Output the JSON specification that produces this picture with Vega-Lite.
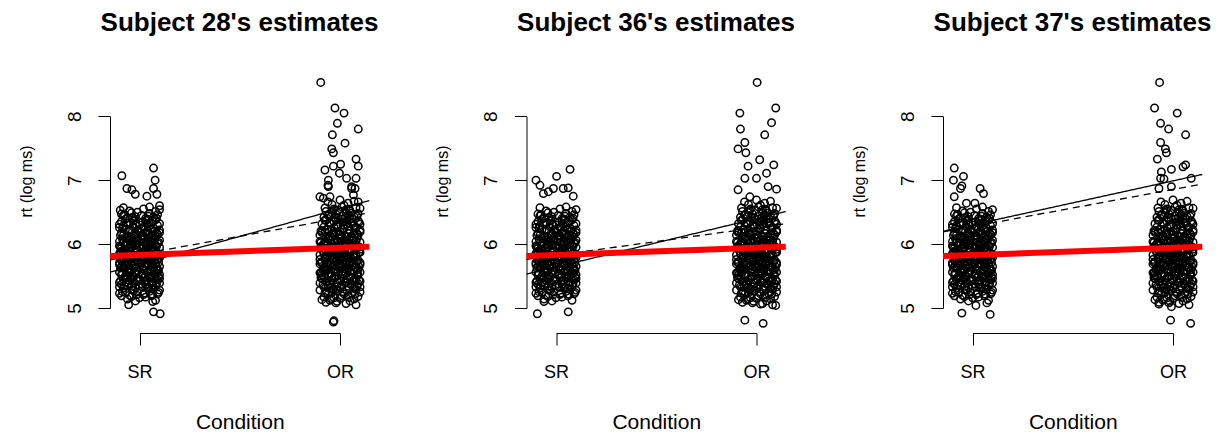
{
"$schema":"https://vega.github.io/schema/vega-lite/v6.json",
"background":"white",
"padding":{"left":18,"top":10,"right":0,"bottom":0},
"datasets":{
"core":[
{"x":-0.06,"y":5.14},{"x":0.03,"y":5.17},{"x":0.08,"y":5.12},{"x":-0.09,"y":5.19},{"x":0,"y":5.16},{"x":-0.02,"y":5.11},{"x":0.06,"y":5.19},{"x":-0.04,"y":5.18},
{"x":0.09,"y":5.22},{"x":-0.07,"y":5.24},{"x":0.02,"y":5.21},{"x":-0.03,"y":5.27},{"x":0.05,"y":5.26},{"x":-0.1,"y":5.23},{"x":0.07,"y":5.29},{"x":-0.01,"y":5.25},{"x":0.1,"y":5.28},{"x":-0.05,"y":5.2},
{"x":-0.08,"y":5.31},{"x":0.04,"y":5.33},{"x":0.01,"y":5.38},{"x":-0.06,"y":5.36},{"x":0.08,"y":5.35},{"x":-0.02,"y":5.32},{"x":0.1,"y":5.39},{"x":-0.09,"y":5.37},{"x":0.06,"y":5.3},{"x":-0.04,"y":5.34},{"x":0.03,"y":5.37},{"x":-0.1,"y":5.33},{"x":0,"y":5.35},
{"x":0.07,"y":5.41},{"x":-0.05,"y":5.43},{"x":0.02,"y":5.47},{"x":-0.08,"y":5.45},{"x":0.09,"y":5.44},{"x":-0.01,"y":5.42},{"x":0.05,"y":5.48},{"x":-0.1,"y":5.4},{"x":0.04,"y":5.43},{"x":-0.03,"y":5.49},{"x":0.1,"y":5.46},{"x":-0.07,"y":5.48},{"x":0,"y":5.45},{"x":0.06,"y":5.4},{"x":-0.04,"y":5.46},
{"x":-0.09,"y":5.52},{"x":0.03,"y":5.51},{"x":0.08,"y":5.55},{"x":-0.02,"y":5.54},{"x":0.06,"y":5.58},{"x":-0.06,"y":5.57},{"x":0.01,"y":5.53},{"x":-0.1,"y":5.56},{"x":0.1,"y":5.52},{"x":-0.04,"y":5.59},{"x":0.04,"y":5.56},{"x":-0.07,"y":5.5},{"x":0.09,"y":5.59},{"x":-0.01,"y":5.58},{"x":0.05,"y":5.5},{"x":-0.05,"y":5.55},
{"x":0.02,"y":5.61},{"x":-0.08,"y":5.63},{"x":0.07,"y":5.62},{"x":-0.03,"y":5.66},{"x":0.1,"y":5.65},{"x":-0.06,"y":5.6},{"x":0.04,"y":5.67},{"x":-0.1,"y":5.68},{"x":0,"y":5.64},{"x":0.08,"y":5.69},{"x":-0.05,"y":5.62},{"x":0.03,"y":5.69},{"x":-0.09,"y":5.65},{"x":0.06,"y":5.64},{"x":-0.02,"y":5.68},{"x":0.09,"y":5.61},{"x":-0.07,"y":5.67},
{"x":-0.04,"y":5.71},{"x":0.05,"y":5.73},{"x":-0.09,"y":5.74},{"x":0.01,"y":5.7},{"x":0.09,"y":5.76},{"x":-0.06,"y":5.78},{"x":0.03,"y":5.77},{"x":-0.01,"y":5.75},{"x":0.07,"y":5.72},{"x":-0.1,"y":5.71},{"x":0.1,"y":5.79},{"x":-0.03,"y":5.73},{"x":0.04,"y":5.79},{"x":-0.08,"y":5.77},{"x":0.06,"y":5.75},{"x":-0.05,"y":5.76},{"x":0.02,"y":5.74},
{"x":0.08,"y":5.81},{"x":-0.07,"y":5.82},{"x":0,"y":5.84},{"x":0.05,"y":5.86},{"x":-0.02,"y":5.88},{"x":-0.1,"y":5.85},{"x":0.1,"y":5.83},{"x":-0.05,"y":5.8},{"x":0.03,"y":5.89},{"x":-0.08,"y":5.87},{"x":0.07,"y":5.88},{"x":-0.03,"y":5.83},{"x":0.01,"y":5.81},{"x":0.09,"y":5.86},{"x":-0.06,"y":5.84},{"x":0.04,"y":5.85},{"x":-0.09,"y":5.89},
{"x":-0.01,"y":5.91},{"x":0.06,"y":5.92},{"x":-0.07,"y":5.9},{"x":0.1,"y":5.95},{"x":-0.04,"y":5.96},{"x":0.02,"y":5.94},{"x":-0.09,"y":5.93},{"x":0.08,"y":5.98},{"x":-0.02,"y":5.99},{"x":0.04,"y":5.97},{"x":-0.1,"y":5.97},{"x":0,"y":5.95},{"x":0.07,"y":5.9},{"x":-0.06,"y":5.98},{"x":0.03,"y":5.92},{"x":-0.05,"y":5.93},
{"x":0.09,"y":6.01},{"x":-0.03,"y":6.03},{"x":0.05,"y":6.05},{"x":-0.08,"y":6.02},{"x":0.01,"y":6.07},{"x":-0.05,"y":6.06},{"x":0.07,"y":6.08},{"x":-0.1,"y":6.04},{"x":0.03,"y":6.0},{"x":-0.01,"y":6.09},{"x":0.1,"y":6.06},{"x":-0.07,"y":6.09},{"x":0.04,"y":6.02},{"x":-0.04,"y":6.0},{"x":0.06,"y":6.04},
{"x":-0.06,"y":6.11},{"x":0.02,"y":6.13},{"x":0.08,"y":6.12},{"x":-0.02,"y":6.15},{"x":-0.09,"y":6.17},{"x":0.05,"y":6.16},{"x":0,"y":6.19},{"x":0.1,"y":6.18},{"x":-0.04,"y":6.1},{"x":0.06,"y":6.1},{"x":-0.08,"y":6.14},{"x":0.03,"y":6.18},{"x":-0.01,"y":6.12},{"x":0.09,"y":6.15},
{"x":0.04,"y":6.21},{"x":-0.07,"y":6.23},{"x":0.07,"y":6.25},{"x":-0.03,"y":6.27},{"x":0.01,"y":6.24},{"x":-0.1,"y":6.26},{"x":0.09,"y":6.29},{"x":-0.05,"y":6.2},{"x":0.05,"y":6.28},{"x":-0.01,"y":6.22},{"x":0.1,"y":6.22},{"x":-0.08,"y":6.29},{"x":0.02,"y":6.26},
{"x":-0.02,"y":6.31},{"x":0.06,"y":6.33},{"x":-0.09,"y":6.35},{"x":0.03,"y":6.37},{"x":-0.05,"y":6.34},{"x":0.08,"y":6.38},{"x":0,"y":6.3},{"x":-0.07,"y":6.39},{"x":0.1,"y":6.32},{"x":-0.03,"y":6.36},{"x":0.04,"y":6.39},{"x":-0.1,"y":6.31},
{"x":0.07,"y":6.42},{"x":-0.06,"y":6.41},{"x":0.01,"y":6.45},{"x":-0.09,"y":6.47},{"x":0.05,"y":6.48},{"x":-0.02,"y":6.43},{"x":0.09,"y":6.46},{"x":-0.04,"y":6.49},{"x":0.03,"y":6.4},{"x":-0.08,"y":6.44},
{"x":-0.05,"y":6.52},{"x":0.08,"y":6.51},{"x":0.02,"y":6.55},{"x":-0.08,"y":6.57},{"x":0.05,"y":6.58},{"x":-0.01,"y":6.5},{"x":0.1,"y":6.54},
{"x":-0.085,"y":5.255},{"x":0.025,"y":5.235},{"x":0.065,"y":5.215},{"x":-0.035,"y":5.285},{"x":0.095,"y":5.245},{"x":-0.015,"y":5.205},
{"x":0.045,"y":5.315},{"x":-0.075,"y":5.345},{"x":0.085,"y":5.375},{"x":-0.025,"y":5.395},{"x":0.015,"y":5.325},{"x":-0.055,"y":5.385},{"x":0.065,"y":5.355},
{"x":-0.095,"y":5.425},{"x":0.035,"y":5.415},{"x":-0.045,"y":5.455},{"x":0.075,"y":5.475},{"x":-0.005,"y":5.435},{"x":0.055,"y":5.495},{"x":-0.065,"y":5.405},{"x":0.095,"y":5.485},
{"x":0.015,"y":5.525},{"x":-0.035,"y":5.515},{"x":0.075,"y":5.535},{"x":-0.085,"y":5.545},{"x":0.045,"y":5.575},{"x":-0.015,"y":5.565},{"x":0.095,"y":5.585},{"x":-0.055,"y":5.595},
{"x":-0.075,"y":5.615},{"x":0.055,"y":5.605},{"x":-0.015,"y":5.635},{"x":0.025,"y":5.655},{"x":-0.045,"y":5.675},{"x":0.085,"y":5.645},{"x":-0.095,"y":5.625},{"x":0.065,"y":5.685},
{"x":0.035,"y":5.705},{"x":-0.025,"y":5.725},{"x":0.075,"y":5.745},{"x":-0.065,"y":5.765},{"x":0.015,"y":5.785},{"x":-0.085,"y":5.735},{"x":0.095,"y":5.715},{"x":-0.045,"y":5.795},
{"x":-0.015,"y":5.815},{"x":0.065,"y":5.825},{"x":-0.055,"y":5.845},{"x":0.025,"y":5.865},{"x":-0.095,"y":5.875},{"x":0.045,"y":5.895},{"x":-0.035,"y":5.805},{"x":0.085,"y":5.855},
{"x":0.055,"y":5.905},{"x":-0.075,"y":5.925},{"x":0.015,"y":5.945},{"x":-0.025,"y":5.975},{"x":0.085,"y":5.965},{"x":-0.045,"y":5.985},{"x":0.035,"y":5.915},{"x":-0.095,"y":5.955},
{"x":-0.065,"y":6.015},{"x":0.025,"y":6.035},{"x":-0.015,"y":6.055},{"x":0.075,"y":6.065},{"x":-0.085,"y":6.085},{"x":0.045,"y":6.095},{"x":0.095,"y":6.025},{"x":-0.035,"y":6.045},
{"x":0.015,"y":6.105},{"x":-0.055,"y":6.125},{"x":0.065,"y":6.145},{"x":-0.025,"y":6.165},{"x":0.035,"y":6.185},{"x":-0.095,"y":6.135},{"x":0.085,"y":6.175},
{"x":-0.045,"y":6.215},{"x":0.055,"y":6.235},{"x":-0.085,"y":6.255},{"x":0.025,"y":6.275},{"x":-0.015,"y":6.295},{"x":0.075,"y":6.205},
{"x":0.035,"y":6.315},{"x":-0.065,"y":6.325},{"x":0.065,"y":6.355},{"x":-0.025,"y":6.375},{"x":0.015,"y":6.345},
{"x":-0.035,"y":6.415},{"x":0.045,"y":6.435},{"x":-0.075,"y":6.465},{"x":0.085,"y":6.405},
{"x":1.03,"y":5.07},{"x":0.93,"y":5.09},{"x":1.08,"y":5.05},{"x":0.98,"y":5.08},
{"x":0.91,"y":5.13},{"x":1.05,"y":5.11},{"x":0.97,"y":5.16},{"x":1.09,"y":5.18},{"x":0.95,"y":5.12},{"x":1.01,"y":5.19},{"x":0.92,"y":5.17},{"x":1.07,"y":5.14},{"x":1.0,"y":5.15},
{"x":0.94,"y":5.21},{"x":1.06,"y":5.23},{"x":0.99,"y":5.27},{"x":1.1,"y":5.25},{"x":0.9,"y":5.28},{"x":1.02,"y":5.22},{"x":0.96,"y":5.24},{"x":1.08,"y":5.29},{"x":0.93,"y":5.26},{"x":1.04,"y":5.2},{"x":0.98,"y":5.29},
{"x":1.07,"y":5.31},{"x":0.92,"y":5.33},{"x":1.01,"y":5.36},{"x":0.97,"y":5.3},{"x":1.09,"y":5.38},{"x":0.95,"y":5.37},{"x":1.04,"y":5.34},{"x":0.9,"y":5.39},{"x":1.0,"y":5.32},{"x":1.06,"y":5.35},{"x":0.94,"y":5.35},{"x":1.1,"y":5.33},{"x":0.99,"y":5.39},
{"x":0.93,"y":5.42},{"x":1.03,"y":5.41},{"x":1.08,"y":5.45},{"x":0.97,"y":5.47},{"x":0.91,"y":5.46},{"x":1.05,"y":5.48},{"x":1.0,"y":5.43},{"x":0.95,"y":5.4},{"x":1.1,"y":5.42},{"x":1.02,"y":5.46},{"x":0.98,"y":5.49},{"x":0.92,"y":5.49},{"x":1.07,"y":5.44},{"x":0.96,"y":5.44},
{"x":1.01,"y":5.51},{"x":0.94,"y":5.53},{"x":1.09,"y":5.52},{"x":0.99,"y":5.56},{"x":1.05,"y":5.57},{"x":0.9,"y":5.55},{"x":0.97,"y":5.59},{"x":1.03,"y":5.54},{"x":1.07,"y":5.59},{"x":0.93,"y":5.58},{"x":1.1,"y":5.56},{"x":0.96,"y":5.5},{"x":1.02,"y":5.58},{"x":0.91,"y":5.52},{"x":1.06,"y":5.53},
{"x":0.98,"y":5.61},{"x":1.04,"y":5.62},{"x":0.92,"y":5.64},{"x":1.08,"y":5.63},{"x":0.95,"y":5.67},{"x":1.0,"y":5.66},{"x":1.1,"y":5.68},{"x":0.9,"y":5.69},{"x":1.03,"y":5.69},{"x":0.97,"y":5.6},{"x":1.06,"y":5.65},{"x":0.94,"y":5.61},{"x":1.01,"y":5.64},{"x":1.09,"y":5.6},{"x":0.99,"y":5.68},{"x":0.93,"y":5.66},
{"x":1.05,"y":5.71},{"x":0.91,"y":5.72},{"x":1.0,"y":5.74},{"x":0.96,"y":5.77},{"x":1.09,"y":5.75},{"x":1.02,"y":5.78},{"x":0.94,"y":5.7},{"x":1.07,"y":5.79},{"x":0.98,"y":5.72},{"x":0.9,"y":5.76},{"x":1.04,"y":5.76},{"x":1.1,"y":5.71},{"x":0.93,"y":5.79},{"x":1.01,"y":5.7},{"x":0.97,"y":5.75},{"x":1.06,"y":5.73},
{"x":0.95,"y":5.81},{"x":1.03,"y":5.83},{"x":1.08,"y":5.82},{"x":0.99,"y":5.86},{"x":0.92,"y":5.85},{"x":1.05,"y":5.88},{"x":1.01,"y":5.8},{"x":0.97,"y":5.89},{"x":1.1,"y":5.87},{"x":0.9,"y":5.83},{"x":1.02,"y":5.86},{"x":0.94,"y":5.88},{"x":1.07,"y":5.85},{"x":0.96,"y":5.82},{"x":1.04,"y":5.89},{"x":1.0,"y":5.84},
{"x":1.06,"y":5.91},{"x":0.93,"y":5.9},{"x":1.01,"y":5.93},{"x":0.98,"y":5.97},{"x":1.09,"y":5.95},{"x":0.91,"y":5.96},{"x":1.03,"y":5.98},{"x":0.96,"y":5.92},{"x":1.08,"y":5.99},{"x":0.95,"y":5.94},{"x":1.0,"y":5.99},{"x":1.04,"y":5.91},{"x":0.92,"y":5.99},{"x":1.1,"y":5.92},{"x":0.99,"y":5.95},{"x":1.02,"y":5.96},
{"x":0.97,"y":6.02},{"x":1.05,"y":6.01},{"x":0.9,"y":6.04},{"x":1.02,"y":6.06},{"x":1.08,"y":6.05},{"x":0.94,"y":6.08},{"x":1.0,"y":6.09},{"x":1.06,"y":6.09},{"x":0.96,"y":6.0},{"x":1.1,"y":6.03},{"x":0.99,"y":6.04},{"x":0.92,"y":6.01},{"x":1.03,"y":6.03},{"x":1.07,"y":6.07},{"x":0.95,"y":6.06},
{"x":1.01,"y":6.12},{"x":0.93,"y":6.11},{"x":1.09,"y":6.14},{"x":0.97,"y":6.16},{"x":1.04,"y":6.17},{"x":0.91,"y":6.18},{"x":1.06,"y":6.1},{"x":1.0,"y":6.15},{"x":0.95,"y":6.13},{"x":1.1,"y":6.19},{"x":0.98,"y":6.19},{"x":1.03,"y":6.11},{"x":0.9,"y":6.14},{"x":1.07,"y":6.16},
{"x":0.96,"y":6.22},{"x":1.05,"y":6.21},{"x":1.02,"y":6.25},{"x":0.92,"y":6.27},{"x":1.08,"y":6.26},{"x":0.99,"y":6.29},{"x":1.04,"y":6.28},{"x":0.94,"y":6.23},{"x":1.1,"y":6.22},{"x":1.0,"y":6.2},{"x":0.97,"y":6.26},{"x":1.07,"y":6.29},{"x":0.91,"y":6.21},
{"x":1.03,"y":6.31},{"x":0.95,"y":6.33},{"x":1.09,"y":6.36},{"x":0.98,"y":6.38},{"x":1.06,"y":6.34},{"x":0.93,"y":6.37},{"x":1.01,"y":6.39},{"x":1.1,"y":6.31},{"x":0.97,"y":6.35},{"x":0.91,"y":6.32},{"x":1.05,"y":6.39},{"x":1.02,"y":6.35},
{"x":0.99,"y":6.41},{"x":1.07,"y":6.43},{"x":0.94,"y":6.45},{"x":1.04,"y":6.46},{"x":0.96,"y":6.49},{"x":1.09,"y":6.48},{"x":1.01,"y":6.44},{"x":0.92,"y":6.42},{"x":1.06,"y":6.4},{"x":0.98,"y":6.47},{"x":1.03,"y":6.49},
{"x":1.05,"y":6.52},{"x":0.97,"y":6.55},{"x":1.08,"y":6.57},{"x":0.93,"y":6.51},{"x":1.01,"y":6.58},{"x":1.03,"y":6.54},{"x":0.99,"y":6.53},{"x":1.1,"y":6.56},
{"x":0.96,"y":6.62},{"x":1.04,"y":6.64},{"x":1.07,"y":6.67},{"x":0.94,"y":6.66},{"x":1.0,"y":6.69},{"x":1.02,"y":6.61},
{"x":0.955,"y":5.145},{"x":1.045,"y":5.165},{"x":0.985,"y":5.105},
{"x":1.015,"y":5.255},{"x":0.925,"y":5.235},{"x":1.075,"y":5.215},{"x":0.965,"y":5.285},{"x":1.035,"y":5.275},
{"x":0.955,"y":5.315},{"x":1.085,"y":5.345},{"x":0.915,"y":5.365},{"x":1.025,"y":5.395},{"x":0.985,"y":5.335},{"x":1.055,"y":5.385},
{"x":1.065,"y":5.425},{"x":0.935,"y":5.415},{"x":1.005,"y":5.455},{"x":0.905,"y":5.475},{"x":1.095,"y":5.435},{"x":0.975,"y":5.495},{"x":1.035,"y":5.405},
{"x":0.945,"y":5.525},{"x":1.085,"y":5.515},{"x":1.015,"y":5.535},{"x":0.905,"y":5.545},{"x":1.055,"y":5.575},{"x":0.975,"y":5.565},{"x":1.035,"y":5.595},{"x":0.925,"y":5.585},
{"x":1.025,"y":5.615},{"x":0.915,"y":5.605},{"x":1.075,"y":5.635},{"x":0.965,"y":5.655},{"x":1.045,"y":5.675},{"x":0.935,"y":5.685},{"x":1.095,"y":5.645},{"x":0.995,"y":5.625},
{"x":0.955,"y":5.705},{"x":1.085,"y":5.725},{"x":1.015,"y":5.745},{"x":0.925,"y":5.765},{"x":1.055,"y":5.785},{"x":0.985,"y":5.735},{"x":0.905,"y":5.715},{"x":1.035,"y":5.795},
{"x":1.065,"y":5.815},{"x":0.935,"y":5.825},{"x":1.015,"y":5.845},{"x":0.975,"y":5.865},{"x":1.095,"y":5.875},{"x":0.915,"y":5.895},{"x":1.045,"y":5.805},{"x":0.955,"y":5.855},
{"x":0.985,"y":5.905},{"x":1.075,"y":5.925},{"x":0.945,"y":5.945},{"x":1.025,"y":5.975},{"x":0.905,"y":5.965},{"x":1.055,"y":5.985},{"x":0.965,"y":5.915},{"x":1.095,"y":5.955},
{"x":1.035,"y":6.015},{"x":0.925,"y":6.035},{"x":1.065,"y":6.055},{"x":0.955,"y":6.065},{"x":1.005,"y":6.085},{"x":1.085,"y":6.095},{"x":0.905,"y":6.025},{"x":0.975,"y":6.045},
{"x":0.945,"y":6.105},{"x":1.055,"y":6.125},{"x":0.995,"y":6.145},{"x":1.085,"y":6.165},{"x":0.925,"y":6.185},{"x":1.025,"y":6.135},{"x":0.965,"y":6.175},
{"x":1.045,"y":6.215},{"x":0.935,"y":6.235},{"x":1.075,"y":6.255},{"x":0.985,"y":6.275},{"x":1.015,"y":6.295},{"x":0.905,"y":6.205},
{"x":0.955,"y":6.315},{"x":1.065,"y":6.325},{"x":1.035,"y":6.355},{"x":0.925,"y":6.375},{"x":1.095,"y":6.345},
{"x":0.975,"y":6.415},{"x":1.085,"y":6.435},{"x":0.945,"y":6.465},{"x":1.025,"y":6.405},{"x":1.055,"y":6.485},
{"x":0.965,"y":6.525},{"x":1.045,"y":6.545},{"x":0.925,"y":6.565}
],
"out":[
{"p":28,"x":-0.088,"y":7.07},{"p":28,"x":-0.063,"y":6.87},{"p":28,"x":-0.038,"y":6.85},{"p":28,"x":-0.021,"y":6.78},{"p":28,"x":0.07,"y":7.19},{"p":28,"x":0.078,"y":7.0},{"p":28,"x":0.07,"y":6.87},{"p":28,"x":0.087,"y":6.78},{"p":28,"x":0.037,"y":6.75},{"p":28,"x":-0.096,"y":6.53},{"p":28,"x":0.1,"y":6.6},{"p":28,"x":-0.054,"y":5.05},{"p":28,"x":0.07,"y":4.94},{"p":28,"x":0.103,"y":4.91},{"p":28,"x":0.066,"y":5.1},
{"p":28,"x":0.904,"y":8.53},{"p":28,"x":0.975,"y":8.13},{"p":28,"x":1.02,"y":8.05},{"p":28,"x":0.987,"y":7.89},{"p":28,"x":1.091,"y":7.8},{"p":28,"x":0.962,"y":7.71},{"p":28,"x":1.025,"y":7.58},{"p":28,"x":0.959,"y":7.49},{"p":28,"x":0.967,"y":7.43},{"p":28,"x":1.08,"y":7.33},{"p":28,"x":1.091,"y":7.22},{"p":28,"x":1.003,"y":7.25},{"p":28,"x":0.925,"y":7.16},{"p":28,"x":0.967,"y":7.22},{"p":28,"x":0.997,"y":7.11},{"p":28,"x":0.942,"y":7.0},{"p":28,"x":1.033,"y":7.03},{"p":28,"x":1.08,"y":7.03},{"p":28,"x":0.9,"y":6.74},{"p":28,"x":0.95,"y":6.74},{"p":28,"x":1.058,"y":6.87},{"p":28,"x":1.075,"y":6.87},{"p":28,"x":0.942,"y":6.9},{"p":28,"x":0.917,"y":6.72},{"p":28,"x":1.067,"y":6.77},{"p":28,"x":1.091,"y":6.66},{"p":28,"x":0.94,"y":6.92},{"p":28,"x":1.058,"y":6.9},{"p":28,"x":0.967,"y":4.78},{"p":28,"x":0.97,"y":4.8},
{"p":36,"x":-0.1,"y":7.0},{"p":36,"x":-0.08,"y":6.92},{"p":36,"x":0.003,"y":7.06},{"p":36,"x":0.07,"y":7.17},{"p":36,"x":0.036,"y":6.87},{"p":36,"x":-0.063,"y":6.79},{"p":36,"x":-0.038,"y":6.82},{"p":36,"x":-0.013,"y":6.87},{"p":36,"x":0.086,"y":6.75},{"p":36,"x":0.061,"y":6.88},{"p":36,"x":-0.093,"y":4.91},{"p":36,"x":0.061,"y":4.94},{"p":36,"x":-0.06,"y":5.1},
{"p":36,"x":1.003,"y":8.53},{"p":36,"x":0.917,"y":8.05},{"p":36,"x":1.096,"y":8.13},{"p":36,"x":0.92,"y":7.8},{"p":36,"x":1.075,"y":7.9},{"p":36,"x":1.041,"y":7.71},{"p":36,"x":0.942,"y":7.59},{"p":36,"x":0.908,"y":7.49},{"p":36,"x":0.947,"y":7.43},{"p":36,"x":1.016,"y":7.32},{"p":36,"x":0.958,"y":7.22},{"p":36,"x":1.086,"y":7.24},{"p":36,"x":1.05,"y":7.11},{"p":36,"x":1.0,"y":7.03},{"p":36,"x":0.942,"y":7.03},{"p":36,"x":0.908,"y":6.85},{"p":36,"x":1.058,"y":6.9},{"p":36,"x":1.1,"y":6.86},{"p":36,"x":0.967,"y":6.74},{"p":36,"x":0.942,"y":4.81},{"p":36,"x":1.033,"y":4.76},{"p":36,"x":1.096,"y":5.04},{"p":36,"x":1.02,"y":5.06},
{"p":37,"x":-0.091,"y":7.19},{"p":37,"x":-0.095,"y":7.0},{"p":37,"x":-0.045,"y":7.06},{"p":37,"x":-0.053,"y":6.91},{"p":37,"x":-0.06,"y":6.87},{"p":37,"x":-0.091,"y":6.74},{"p":37,"x":0.038,"y":6.87},{"p":37,"x":0.055,"y":6.79},{"p":37,"x":-0.03,"y":6.64},{"p":37,"x":0.012,"y":6.64},{"p":37,"x":-0.053,"y":4.92},{"p":37,"x":0.088,"y":4.9},{"p":37,"x":0.017,"y":5.04},{"p":37,"x":0.072,"y":5.08},
{"p":37,"x":0.933,"y":8.53},{"p":37,"x":0.908,"y":8.13},{"p":37,"x":1.021,"y":8.05},{"p":37,"x":0.938,"y":7.89},{"p":37,"x":0.978,"y":7.8},{"p":37,"x":1.063,"y":7.71},{"p":37,"x":0.938,"y":7.59},{"p":37,"x":0.962,"y":7.49},{"p":37,"x":0.967,"y":7.43},{"p":37,"x":0.922,"y":7.33},{"p":37,"x":1.05,"y":7.21},{"p":37,"x":1.063,"y":7.24},{"p":37,"x":0.992,"y":7.17},{"p":37,"x":0.942,"y":7.13},{"p":37,"x":0.938,"y":7.03},{"p":37,"x":0.955,"y":7.02},{"p":37,"x":1.091,"y":7.03},{"p":37,"x":0.93,"y":6.87},{"p":37,"x":0.992,"y":6.9},{"p":37,"x":0.988,"y":4.81},{"p":37,"x":1.088,"y":4.76},{"p":37,"x":0.93,"y":5.06},{"p":37,"x":0.992,"y":5.02}
],
"lines":[
{"p":28,"t":"subj","x":-0.147,"y":5.56},{"p":28,"t":"subj","x":1.146,"y":6.68},
{"p":28,"t":"pool","x":-0.147,"y":5.755},{"p":28,"t":"pool","x":1.146,"y":6.489},
{"p":28,"t":"fixed","x":-0.147,"y":5.812},{"p":28,"t":"fixed","x":1.146,"y":5.96},
{"p":36,"t":"subj","x":-0.147,"y":5.53},{"p":36,"t":"subj","x":1.146,"y":6.51},
{"p":36,"t":"pool","x":-0.147,"y":5.76},{"p":36,"t":"pool","x":1.146,"y":6.32},
{"p":36,"t":"fixed","x":-0.147,"y":5.812},{"p":36,"t":"fixed","x":1.146,"y":5.96},
{"p":37,"t":"subj","x":-0.147,"y":6.2},{"p":37,"t":"subj","x":1.146,"y":7.09},
{"p":37,"t":"pool","x":-0.147,"y":6.19},{"p":37,"t":"pool","x":1.146,"y":6.94},
{"p":37,"t":"fixed","x":-0.147,"y":5.812},{"p":37,"t":"fixed","x":1.146,"y":5.96}
]
},
"config":{
"view":{"stroke":null},
"axis":{"domainColor":"black","domainWidth":1,"tickColor":"black","tickWidth":1,"tickSize":12,"grid":false,"labelColor":"black","titleColor":"black","labelFont":"Liberation Sans","titleFont":"Liberation Sans","labelFontSize":18,"titleFontSize":18,"titleFontWeight":"normal","labelFlush":false,"labelOverlap":false},
"axisY":{"labelAngle":270,"labelAlign":"center","labelBaseline":"alphabetic","labelPadding":18,"labelFontSize":19,"titleAngle":270,"titleAlign":"center","titleBaseline":"alphabetic","titleFontSize":16,"titleX":-79,"titleY":106},
"axisX":{"labelBaseline":"alphabetic","labelPadding":32,"titleBaseline":"alphabetic","titleY":95,"titleFontSize":21},
"title":{"font":"Liberation Sans","fontSize":26,"fontWeight":"bold","color":"black","anchor":"middle","frame":"group","baseline":"alphabetic","offset":39}
},
"hconcat":[
{"width":259,"height":258,"title":"Subject 28's estimates",
"encoding":{
"x":{"field":"x","type":"quantitative","scale":{"domain":[0,1],"range":[29.5,230],"zero":false,"nice":false},"axis":{"values":[0,1],"labelExpr":"datum.value == 0 ? 'SR' : 'OR'","title":"Condition"}},
"y":{"field":"y","type":"quantitative","scale":{"domain":[5,8],"range":[233,41.3],"zero":false,"nice":false},"axis":{"values":[5,6,7,8],"title":"rt (log ms)"}}},
"layer":[
{"data":{"name":"core"},"mark":{"type":"point","shape":"circle","filled":false,"color":"black","strokeWidth":1.5,"size":55,"opacity":1}},
{"data":{"name":"out"},"transform":[{"filter":"datum.p == 28"}],"mark":{"type":"point","shape":"circle","filled":false,"color":"black","strokeWidth":1.5,"size":55,"opacity":1}},
{"data":{"name":"lines"},"transform":[{"filter":"datum.p == 28 && datum.t != 'fixed'"}],"mark":{"type":"line","color":"black","strokeWidth":1.3},"encoding":{"detail":{"field":"t"},"strokeDash":{"field":"t","type":"nominal","scale":{"domain":["subj","pool"],"range":[[1,0],[7,5]]},"legend":null}}},
{"data":{"name":"lines"},"transform":[{"filter":"datum.p == 28 && datum.t == 'fixed'"}],"mark":{"type":"line","color":"#ff0000","strokeWidth":6},"encoding":{}}
]},
{"width":259,"height":258,"title":"Subject 36's estimates",
"encoding":{
"x":{"field":"x","type":"quantitative","scale":{"domain":[0,1],"range":[29.5,230],"zero":false,"nice":false},"axis":{"values":[0,1],"labelExpr":"datum.value == 0 ? 'SR' : 'OR'","title":"Condition"}},
"y":{"field":"y","type":"quantitative","scale":{"domain":[5,8],"range":[233,41.3],"zero":false,"nice":false},"axis":{"values":[5,6,7,8],"title":"rt (log ms)"}}},
"layer":[
{"data":{"name":"core"},"mark":{"type":"point","shape":"circle","filled":false,"color":"black","strokeWidth":1.5,"size":55,"opacity":1}},
{"data":{"name":"out"},"transform":[{"filter":"datum.p == 36"}],"mark":{"type":"point","shape":"circle","filled":false,"color":"black","strokeWidth":1.5,"size":55,"opacity":1}},
{"data":{"name":"lines"},"transform":[{"filter":"datum.p == 36 && datum.t != 'fixed'"}],"mark":{"type":"line","color":"black","strokeWidth":1.3},"encoding":{"detail":{"field":"t"},"strokeDash":{"field":"t","type":"nominal","scale":{"domain":["subj","pool"],"range":[[1,0],[7,5]]},"legend":null}}},
{"data":{"name":"lines"},"transform":[{"filter":"datum.p == 36 && datum.t == 'fixed'"}],"mark":{"type":"line","color":"#ff0000","strokeWidth":6},"encoding":{}}
]},
{"width":259,"height":258,"title":"Subject 37's estimates",
"encoding":{
"x":{"field":"x","type":"quantitative","scale":{"domain":[0,1],"range":[29.5,230],"zero":false,"nice":false},"axis":{"values":[0,1],"labelExpr":"datum.value == 0 ? 'SR' : 'OR'","title":"Condition"}},
"y":{"field":"y","type":"quantitative","scale":{"domain":[5,8],"range":[233,41.3],"zero":false,"nice":false},"axis":{"values":[5,6,7,8],"title":"rt (log ms)"}}},
"layer":[
{"data":{"name":"core"},"mark":{"type":"point","shape":"circle","filled":false,"color":"black","strokeWidth":1.5,"size":55,"opacity":1}},
{"data":{"name":"out"},"transform":[{"filter":"datum.p == 37"}],"mark":{"type":"point","shape":"circle","filled":false,"color":"black","strokeWidth":1.5,"size":55,"opacity":1}},
{"data":{"name":"lines"},"transform":[{"filter":"datum.p == 37 && datum.t != 'fixed'"}],"mark":{"type":"line","color":"black","strokeWidth":1.3},"encoding":{"detail":{"field":"t"},"strokeDash":{"field":"t","type":"nominal","scale":{"domain":["subj","pool"],"range":[[1,0],[7,5]]},"legend":null}}},
{"data":{"name":"lines"},"transform":[{"filter":"datum.p == 37 && datum.t == 'fixed'"}],"mark":{"type":"line","color":"#ff0000","strokeWidth":6},"encoding":{}}
]}
],
"spacing":157.5,
"bounds":"flush"
}
